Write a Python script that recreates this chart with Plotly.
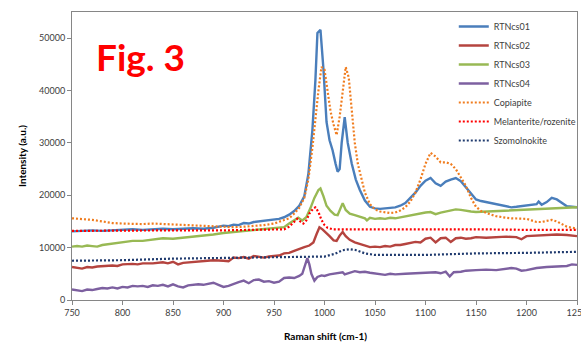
import plotly.graph_objects as go

# ---- data ----
x01 = [750, 760, 770, 780, 790, 800, 810, 820, 830, 840, 850, 860, 870, 880, 890, 900, 905, 910, 915, 920, 925, 930, 940, 950, 955, 960, 965, 970, 975, 980, 984, 988, 991, 993, 996, 999, 1002, 1005, 1008, 1011, 1013, 1015, 1017, 1020, 1023, 1027, 1031, 1035, 1040, 1045, 1050, 1055, 1060, 1065, 1070, 1075, 1080, 1085, 1090, 1095, 1100, 1105, 1110, 1115, 1120, 1125, 1130, 1135, 1140, 1145, 1150, 1155, 1160, 1165, 1170, 1175, 1180, 1185, 1190, 1195, 1200, 1205, 1210, 1212, 1215, 1220, 1225, 1230, 1235, 1240, 1245, 1250]
y01 = [13100, 13200, 13300, 13200, 13300, 13400, 13500, 13400, 13500, 13600, 13500, 13600, 13700, 13600, 13800, 14200, 14100, 14400, 14300, 14700, 14600, 14900, 15100, 15400, 15500, 15800, 16300, 17000, 18000, 19800, 24000, 32400, 42000, 51000, 51600, 44000, 34000, 30500, 28600, 26000, 24500, 25000, 30000, 34900, 30000, 26000, 23000, 21000, 19000, 17800, 17500, 17400, 17500, 17600, 17700, 18000, 18500, 19500, 20500, 21800, 22800, 23300, 22300, 21800, 22600, 23000, 23300, 22700, 21600, 20300, 19200, 18900, 18700, 18500, 18300, 18100, 17900, 17700, 17800, 17900, 18000, 18100, 18300, 18800, 18200, 18700, 19500, 19200, 18500, 17900, 17800, 17700]

x02 = [750, 755, 760, 765, 770, 775, 780, 790, 795, 800, 810, 815, 820, 830, 840, 845, 850, 855, 860, 870, 880, 890, 900, 905, 910, 915, 920, 925, 930, 935, 940, 945, 950, 955, 960, 965, 970, 975, 980, 985, 989, 992, 995, 998, 1001, 1005, 1009, 1012, 1015, 1018, 1021, 1025, 1030, 1035, 1040, 1045, 1050, 1055, 1060, 1065, 1070, 1075, 1080, 1085, 1090, 1095, 1100, 1105, 1110, 1115, 1120, 1125, 1130, 1135, 1140, 1145, 1150, 1160, 1170, 1180, 1190, 1195, 1200, 1210, 1220, 1230, 1240, 1250]
y02 = [6300, 6200, 6000, 6300, 6200, 6400, 6500, 6600, 6500, 6800, 6900, 6800, 7000, 7000, 7200, 7000, 7300, 6800, 7100, 7300, 7400, 7600, 7500, 7400, 8100, 8000, 8200, 7900, 8400, 8200, 8100, 8300, 8400, 8500, 8900, 9000, 9400, 9800, 10100, 10400, 11000, 12500, 13900, 13500, 13000, 12200, 11400, 11300, 12300, 13000, 12200, 11500, 11000, 10700, 10400, 10100, 10200, 10100, 10300, 10200, 10500, 10500, 10700, 10900, 11100, 11000, 11700, 11900, 11000, 11800, 11900, 11100, 11800, 11900, 11700, 11800, 12000, 11900, 12000, 12100, 12000, 11600, 12200, 12300, 12400, 12500, 12400, 12200]

x03 = [750, 755, 760, 765, 770, 775, 780, 790, 800, 810, 820, 830, 840, 850, 860, 870, 880, 890, 900, 910, 920, 930, 940, 950, 955, 960, 965, 970, 974, 978, 982, 986, 990, 994, 996, 999, 1002, 1006, 1010, 1013, 1016, 1018, 1021, 1025, 1030, 1035, 1040, 1042, 1045, 1050, 1055, 1060, 1065, 1070, 1075, 1080, 1085, 1090, 1095, 1100, 1105, 1110, 1115, 1120, 1125, 1130, 1135, 1140, 1145, 1150, 1160, 1170, 1180, 1190, 1200, 1210, 1220, 1230, 1240, 1250]
y03 = [10200, 10300, 10200, 10400, 10300, 10200, 10500, 10800, 11000, 11300, 11300, 11600, 11800, 11700, 11900, 12000, 12200, 12500, 12800, 13000, 13200, 13400, 13600, 13700, 13800, 13900, 14600, 15300, 15700, 15200, 15800, 17500, 19500, 21000, 21300, 19800, 18000, 17000, 16300, 16200, 17800, 18500, 17200, 16500, 16200, 15900, 15600, 15200, 15700, 15500, 15600, 15500, 15700, 15600, 15800, 15900, 16100, 16300, 16500, 16700, 16800, 16400, 16700, 16900, 17100, 17300, 17200, 17000, 16900, 16800, 16900, 17000, 17100, 17200, 17300, 17400, 17500, 17500, 17600, 17700]

x04 = [750, 755, 760, 765, 770, 775, 780, 785, 790, 795, 800, 805, 810, 815, 820, 825, 830, 835, 840, 845, 850, 855, 860, 865, 870, 875, 880, 885, 890, 895, 900, 905, 910, 915, 920, 925, 930, 935, 940, 945, 950, 955, 960, 965, 970, 975, 978, 981, 983, 985, 987, 990, 993, 997, 1000, 1005, 1010, 1015, 1018, 1020, 1025, 1030, 1035, 1040, 1045, 1050, 1060, 1065, 1070, 1080, 1090, 1100, 1110, 1115, 1120, 1124, 1128, 1135, 1140, 1150, 1160, 1170, 1180, 1185, 1190, 1195, 1200, 1210, 1220, 1230, 1240, 1245, 1250]
y04 = [2000, 1800, 1700, 2000, 1900, 2100, 2300, 2200, 2400, 2200, 2500, 2400, 2700, 2600, 2700, 2500, 2800, 2700, 2900, 2600, 3000, 2600, 2400, 2800, 2900, 3000, 2900, 3100, 3300, 2900, 2500, 2700, 3100, 3400, 3700, 3200, 3800, 3900, 3500, 3600, 3300, 3500, 4200, 4300, 4200, 4600, 5000, 7000, 8000, 6800, 5000, 3700, 4400, 4700, 4600, 4900, 5000, 5100, 5300, 4900, 5200, 5500, 5300, 5400, 5200, 5100, 4800, 5000, 4900, 5000, 5100, 5200, 5300, 5100, 5400, 4500, 5300, 5400, 5600, 5700, 5800, 5700, 5900, 6100, 6000, 5600, 5700, 6100, 6300, 6400, 6500, 6800, 6700]

x_cop = [750, 760, 770, 780, 790, 800, 810, 820, 830, 840, 850, 860, 870, 880, 890, 900, 910, 920, 930, 940, 950, 960, 965, 970, 975, 980, 984, 988, 991, 994, 997, 1000, 1003, 1006, 1009, 1012, 1015, 1018, 1021, 1024, 1027, 1030, 1033, 1036, 1040, 1045, 1050, 1055, 1060, 1065, 1070, 1075, 1080, 1085, 1090, 1095, 1100, 1105, 1110, 1115, 1120, 1125, 1130, 1135, 1140, 1145, 1150, 1155, 1160, 1165, 1170, 1175, 1180, 1185, 1190, 1195, 1200, 1205, 1210, 1215, 1220, 1225, 1230, 1235, 1240, 1245, 1250]
y_cop = [15600, 15500, 15300, 15000, 14700, 14600, 14500, 14500, 14600, 14500, 14400, 14300, 14200, 14100, 14000, 14000, 13900, 14000, 14100, 14300, 14600, 15200, 15600, 16500, 17600, 19500, 23000, 29000, 35000, 40000, 44500, 44000, 40000, 36000, 33500, 31500, 35000, 40000, 44500, 42500, 35500, 30000, 26000, 23500, 20500, 18300, 17300, 16900, 16700, 16600, 16700, 17100, 17700, 18800, 20500, 23000, 26000, 28100, 27400, 26300, 26300, 26000, 25000, 23500, 21800, 19500, 17800, 17000, 16600, 16300, 16000, 15800, 15700, 15600, 15600, 15600, 15500, 15200, 14900, 14900, 15100, 15300, 15000, 14500, 14000, 13800, 13600]

x_mel = [750, 800, 850, 900, 950, 960, 965, 970, 973, 976, 979, 982, 985, 989, 991, 994, 997, 1000, 1003, 1008, 1050, 1100, 1125, 1150, 1200, 1250]
y_mel = [13200, 13300, 13300, 13300, 13400, 13500, 14000, 15000, 15500, 15000, 14600, 15200, 16500, 17500, 17700, 16800, 15300, 14300, 13800, 13500, 13500, 13500, 13600, 13500, 13400, 13400]

x_szo = [750, 800, 850, 900, 950, 980, 1000, 1010, 1018, 1025, 1032, 1040, 1050, 1100, 1150, 1200, 1250]
y_szo = [7500, 7600, 7900, 8000, 8100, 8200, 8300, 8800, 9500, 9700, 9500, 8900, 8600, 8600, 8900, 9000, 9200]

x_ticks = [750, 800, 850, 900, 950, 1000, 1050, 1100, 1150, 1200, 1250]
y_ticks = [0, 10000, 20000, 30000, 40000, 50000]

series = [
    ("RTNcs01", x01, y01, "#4A7EBB", "solid"),
    ("RTNcs02", x02, y02, "#B5443F", "solid"),
    ("RTNcs03", x03, y03, "#98B954", "solid"),
    ("RTNcs04", x04, y04, "#7D60A0", "solid"),
    ("Copiapite", x_cop, y_cop, "#F07C1E", "2px,2px"),
    ("Melanterite/rozenite", x_mel, y_mel, "#FF0000", "2px,2px"),
    ("Szomolnokite", x_szo, y_szo, "#1F3A6E", "2px,2px"),
]

FONT = "Lato, 'Open Sans', sans-serif"

fig = go.Figure()
for name, xs, ys, col, dash in series:
    fig.add_trace(go.Scatter(
        x=xs, y=ys, name=name, mode="lines",
        line=dict(color=col, width=2.4 if dash == "solid" else 2.2, dash=dash),
    ))

axis_common = dict(
    showline=True, linecolor="#868686", linewidth=1, mirror=True,
    showgrid=False, zeroline=False, ticks="outside", ticklen=4,
    tickcolor="#868686", tickfont=dict(family=FONT, size=9, color="#404040"),
    automargin=False, ticklabeloverflow="allow",
)

fig.update_layout(
    width=581, height=343,
    margin=dict(l=72, r=4, t=12, b=43, autoexpand=False),
    paper_bgcolor="white", plot_bgcolor="white",
    font=dict(family=FONT, color="#404040"),
    showlegend=True,
    legend=dict(x=0.756, y=1.0, xanchor="left", yanchor="top",
                bgcolor="rgba(0,0,0,0)", font=dict(family=FONT, size=9, color="#404040"),
                itemwidth=30, tracegroupgap=0),
    xaxis=dict(range=[750, 1250], tickvals=x_ticks, ticktext=[str(v) for v in x_ticks],
               **axis_common),
    yaxis=dict(range=[0, 55000], tickvals=y_ticks, ticktext=[str(v) for v in y_ticks],
               **axis_common),
    annotations=[
        dict(text="<b>Fig. 3</b>", xref="paper", yref="paper", x=0.135, y=0.847,
             xanchor="center", yanchor="middle", showarrow=False,
             font=dict(family=FONT, size=37, color="#FF0000")),
        dict(text="<b>Intensity (a.u.)</b>", xref="paper", yref="paper", x=-0.099, y=0.5,
             xanchor="center", yanchor="middle", textangle=-90, showarrow=False,
             font=dict(family=FONT, size=10, color="#000000")),
        dict(text="<b>Raman shift (cm-1)</b>", xref="paper", yref="paper", x=0.501, y=-0.125,
             xanchor="center", yanchor="middle", showarrow=False,
             font=dict(family=FONT, size=10, color="#000000")),
    ],
)

fig.write_html("out.html", config={"displayModeBar": False},
               post_script="document.body.style.margin='0';document.body.style.overflow='hidden';")
